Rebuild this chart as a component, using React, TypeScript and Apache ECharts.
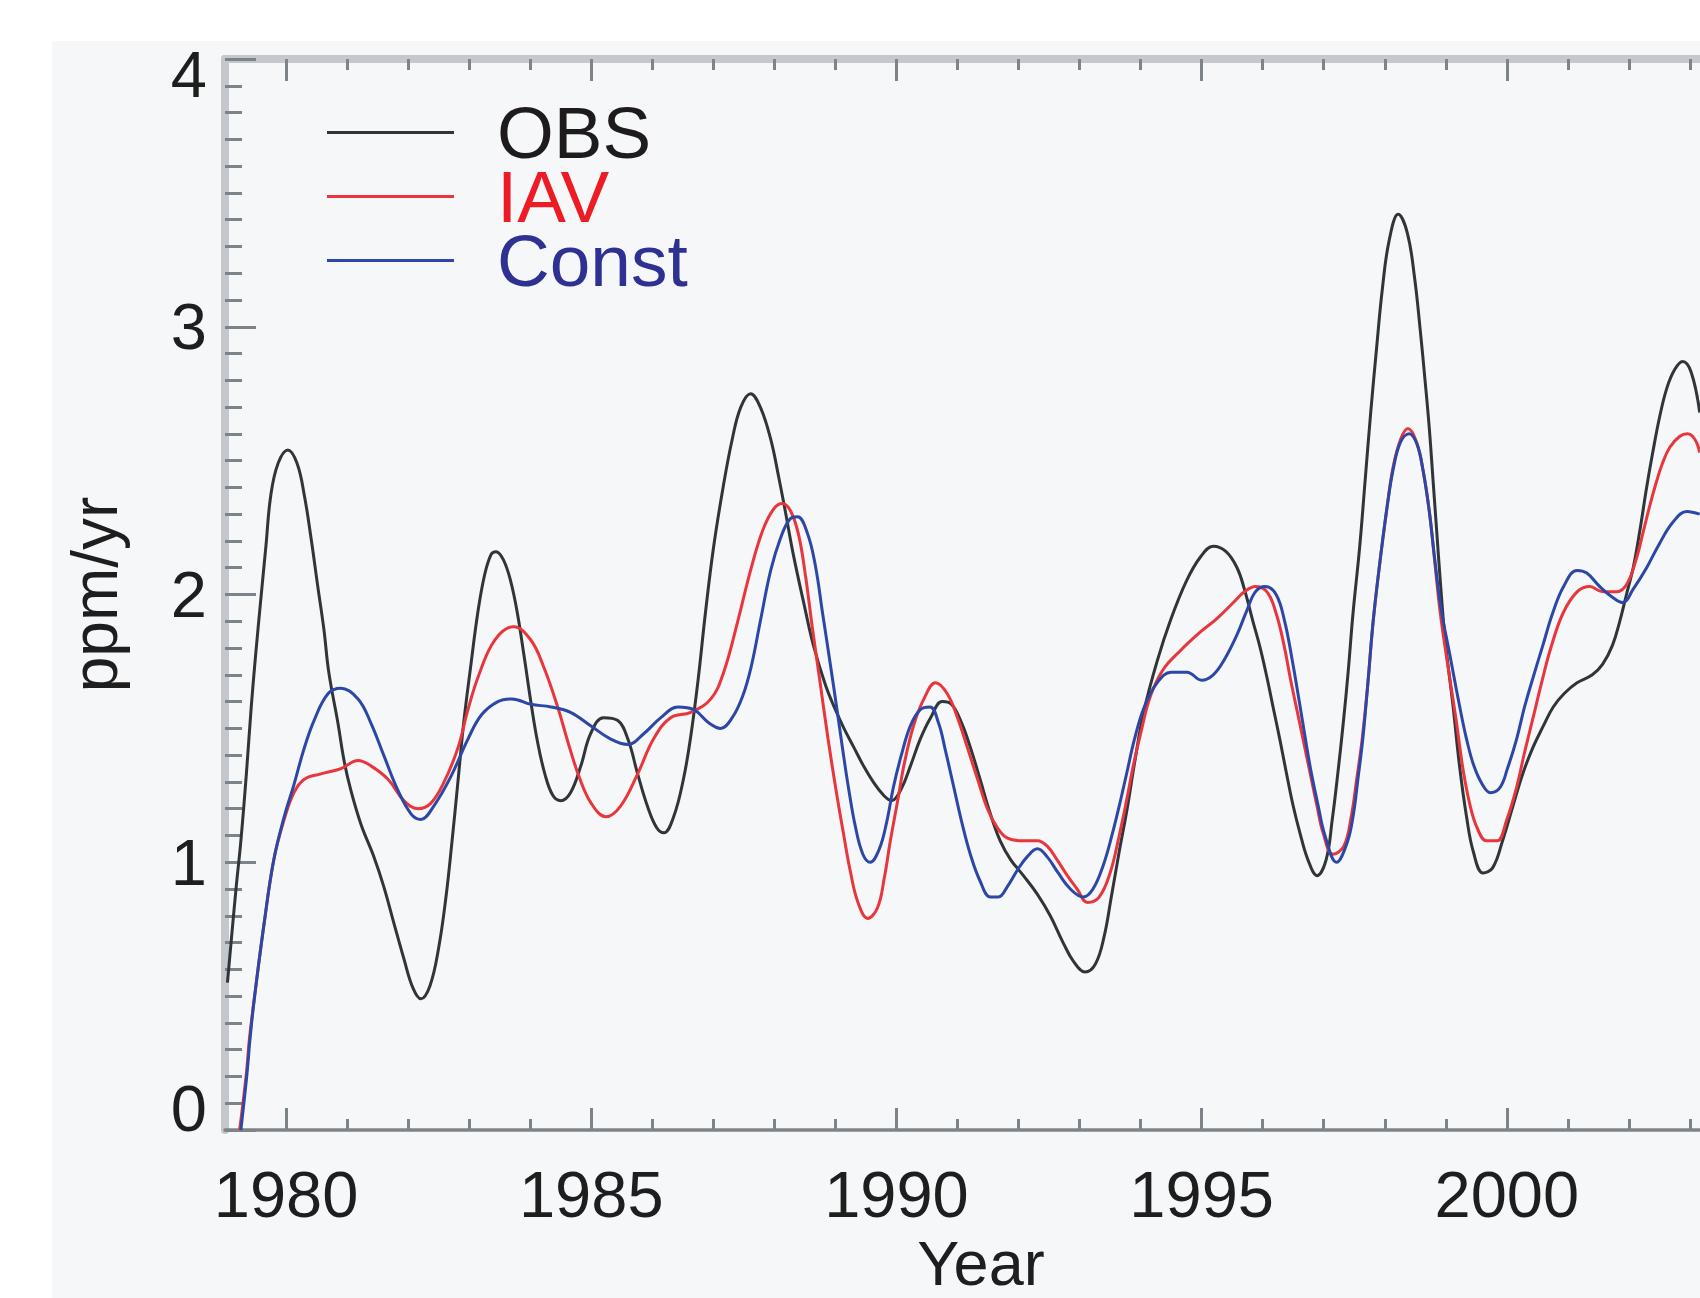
import React, { useEffect, useRef } from 'react';
import * as echarts from 'echarts';

const FONT = "'Liberation Sans', Arial, sans-serif";

const majorYears = [1980, 1985, 1990, 1995, 2000];
const minorYears = [1981, 1982, 1983, 1984, 1986, 1987, 1988, 1989, 1991, 1992, 1993, 1994, 1996, 1997, 1998, 1999, 2001, 2002, 2003];
const seriesNames = ['OBS', 'IAV', 'Const'];

const obs: [number, number][] = [
  [1979.04, 0.55], [1979.18, 0.9], [1979.26, 1.08], [1979.35, 1.33], [1979.43, 1.58], [1979.5, 1.77], [1979.59, 1.99],
  [1979.67, 2.18], [1979.75, 2.37], [1979.87, 2.49], [1980.03, 2.54], [1980.18, 2.49], [1980.3, 2.37], [1980.41, 2.21],
  [1980.52, 2.03], [1980.62, 1.87], [1980.7, 1.71], [1980.85, 1.52], [1980.95, 1.38], [1981.06, 1.27], [1981.23, 1.14],
  [1981.44, 1.02], [1981.6, 0.91], [1981.77, 0.77], [1981.93, 0.64], [1982.08, 0.53], [1982.21, 0.49], [1982.36, 0.54],
  [1982.5, 0.68], [1982.62, 0.87], [1982.72, 1.08], [1982.82, 1.31], [1982.91, 1.52], [1983.03, 1.74], [1983.14, 1.93],
  [1983.25, 2.07], [1983.36, 2.15], [1983.44, 2.16], [1983.56, 2.13], [1983.68, 2.05], [1983.79, 1.93], [1983.9, 1.77],
  [1984.01, 1.6], [1984.12, 1.45], [1984.24, 1.33], [1984.37, 1.25], [1984.5, 1.23], [1984.66, 1.26], [1984.83, 1.36],
  [1984.99, 1.48], [1985.2, 1.54], [1985.43, 1.53], [1985.6, 1.46], [1985.76, 1.33], [1985.92, 1.21], [1986.07, 1.13],
  [1986.19, 1.11], [1986.35, 1.17], [1986.51, 1.31], [1986.63, 1.47], [1986.75, 1.68], [1986.87, 1.93], [1987.0, 2.17],
  [1987.16, 2.4], [1987.31, 2.58], [1987.45, 2.7], [1987.61, 2.75], [1987.77, 2.7], [1987.94, 2.58], [1988.07, 2.44],
  [1988.18, 2.31], [1988.31, 2.15], [1988.48, 1.97], [1988.64, 1.81], [1988.84, 1.66], [1989.0, 1.57], [1989.14, 1.5],
  [1989.3, 1.43], [1989.46, 1.36], [1989.62, 1.3], [1989.79, 1.25], [1989.92, 1.23], [1990.07, 1.27], [1990.23, 1.36],
  [1990.39, 1.46], [1990.56, 1.54], [1990.75, 1.6], [1990.9, 1.59], [1991.05, 1.53], [1991.21, 1.43], [1991.37, 1.31],
  [1991.54, 1.18], [1991.7, 1.08], [1991.87, 1.01], [1992.08, 0.95], [1992.31, 0.88], [1992.52, 0.8], [1992.73, 0.7],
  [1992.9, 0.63], [1993.09, 0.59], [1993.26, 0.62], [1993.4, 0.72], [1993.52, 0.87], [1993.65, 1.04], [1993.78, 1.2],
  [1993.9, 1.37], [1994.05, 1.56], [1994.27, 1.75], [1994.5, 1.91], [1994.75, 2.05], [1994.98, 2.14], [1995.19, 2.18],
  [1995.4, 2.16], [1995.58, 2.1], [1995.7, 2.02], [1995.84, 1.9], [1995.96, 1.8], [1996.07, 1.69], [1996.17, 1.58],
  [1996.28, 1.46], [1996.4, 1.32], [1996.5, 1.21], [1996.61, 1.11], [1996.74, 1.01], [1996.89, 0.95], [1997.04, 1.01],
  [1997.14, 1.16], [1997.23, 1.33], [1997.32, 1.52], [1997.4, 1.71], [1997.48, 1.93], [1997.59, 2.18], [1997.68, 2.43],
  [1997.77, 2.68], [1997.87, 2.93], [1997.96, 3.14], [1998.07, 3.32], [1998.22, 3.42], [1998.37, 3.35], [1998.49, 3.18],
  [1998.58, 2.99], [1998.66, 2.8], [1998.73, 2.62], [1998.79, 2.43], [1998.85, 2.24], [1998.91, 2.05], [1998.99, 1.83],
  [1999.12, 1.58], [1999.23, 1.35], [1999.34, 1.17], [1999.45, 1.04], [1999.61, 0.96], [1999.77, 0.98], [1999.93, 1.08],
  [2000.1, 1.21], [2000.26, 1.33], [2000.43, 1.43], [2000.6, 1.51], [2000.76, 1.58], [2000.94, 1.63], [2001.15, 1.67],
  [2001.4, 1.7], [2001.57, 1.74], [2001.73, 1.81], [2001.85, 1.9], [2001.96, 2.0], [2002.07, 2.1], [2002.18, 2.24],
  [2002.29, 2.4], [2002.39, 2.53], [2002.5, 2.66], [2002.62, 2.77], [2002.75, 2.84], [2002.88, 2.87], [2003.02, 2.83],
  [2003.16, 2.68],
];

const iav: [number, number][] = [
  [1979.24, 0.0], [1979.35, 0.21], [1979.4, 0.34], [1979.48, 0.49], [1979.64, 0.77], [1979.8, 1.01], [1979.97, 1.16],
  [1980.13, 1.26], [1980.3, 1.31], [1980.57, 1.33], [1980.9, 1.35], [1981.18, 1.38], [1981.39, 1.36], [1981.67, 1.31],
  [1981.93, 1.23], [1982.16, 1.2], [1982.37, 1.22], [1982.59, 1.3], [1982.82, 1.43], [1982.98, 1.57], [1983.16, 1.7],
  [1983.42, 1.83], [1983.73, 1.88], [1984.01, 1.83], [1984.22, 1.73], [1984.45, 1.58], [1984.63, 1.44], [1984.8, 1.32],
  [1985.0, 1.22], [1985.24, 1.17], [1985.48, 1.21], [1985.76, 1.33], [1986.02, 1.46], [1986.3, 1.54], [1986.63, 1.56],
  [1986.96, 1.61], [1987.17, 1.71], [1987.4, 1.9], [1987.61, 2.09], [1987.81, 2.24], [1987.99, 2.32], [1988.13, 2.34],
  [1988.27, 2.31], [1988.4, 2.22], [1988.51, 2.07], [1988.62, 1.88], [1988.75, 1.67], [1988.88, 1.46], [1989.01, 1.27],
  [1989.13, 1.11], [1989.25, 0.96], [1989.37, 0.85], [1989.53, 0.79], [1989.69, 0.83], [1989.8, 0.94], [1989.9, 1.08],
  [1990.02, 1.23], [1990.13, 1.37], [1990.28, 1.51], [1990.45, 1.61], [1990.64, 1.67], [1990.83, 1.63], [1991.0, 1.54],
  [1991.16, 1.43], [1991.33, 1.31], [1991.49, 1.2], [1991.65, 1.13], [1991.82, 1.09], [1992.08, 1.08], [1992.31, 1.08],
  [1992.47, 1.06], [1992.63, 1.01], [1992.8, 0.95], [1992.96, 0.9], [1993.13, 0.85], [1993.32, 0.87], [1993.5, 0.96],
  [1993.65, 1.1], [1993.77, 1.23], [1993.88, 1.36], [1994.0, 1.48], [1994.16, 1.62], [1994.37, 1.72], [1994.65, 1.79],
  [1994.98, 1.86], [1995.25, 1.91], [1995.52, 1.97], [1995.7, 2.01], [1995.88, 2.03], [1996.07, 2.01], [1996.22, 1.93],
  [1996.35, 1.81], [1996.45, 1.69], [1996.56, 1.57], [1996.67, 1.45], [1996.78, 1.33], [1996.89, 1.21], [1996.99, 1.11],
  [1997.15, 1.03], [1997.33, 1.06], [1997.45, 1.17], [1997.54, 1.31], [1997.63, 1.46], [1997.72, 1.66], [1997.81, 1.9],
  [1997.92, 2.12], [1998.04, 2.33], [1998.14, 2.48], [1998.26, 2.58], [1998.38, 2.62], [1998.52, 2.57], [1998.63, 2.46],
  [1998.73, 2.31], [1998.82, 2.12], [1998.91, 1.93], [1999.03, 1.74], [1999.17, 1.53], [1999.28, 1.35], [1999.39, 1.22],
  [1999.51, 1.13], [1999.67, 1.08], [1999.84, 1.08], [2000.0, 1.16], [2000.16, 1.28], [2000.29, 1.41], [2000.43, 1.54],
  [2000.58, 1.68], [2000.72, 1.8], [2000.92, 1.93], [2001.15, 2.01], [2001.36, 2.03], [2001.57, 2.01], [2001.8, 2.01],
  [2001.97, 2.04], [2002.13, 2.14], [2002.23, 2.23], [2002.34, 2.33], [2002.45, 2.42], [2002.55, 2.49], [2002.67, 2.55],
  [2002.83, 2.59], [2002.96, 2.6], [2003.08, 2.58], [2003.16, 2.53],
];

const cnst: [number, number][] = [
  [1979.26, 0.0], [1979.36, 0.21], [1979.41, 0.34], [1979.48, 0.49], [1979.64, 0.77], [1979.8, 1.01], [1979.97, 1.17],
  [1980.13, 1.29], [1980.29, 1.42], [1980.46, 1.53], [1980.69, 1.63], [1980.9, 1.65], [1981.18, 1.61], [1981.39, 1.52],
  [1981.6, 1.4], [1981.83, 1.27], [1982.05, 1.18], [1982.21, 1.16], [1982.42, 1.21], [1982.7, 1.32], [1982.98, 1.46],
  [1983.2, 1.55], [1983.47, 1.6], [1983.7, 1.61], [1984.01, 1.59], [1984.34, 1.58], [1984.66, 1.56], [1984.99, 1.51],
  [1985.32, 1.46], [1985.6, 1.44], [1985.86, 1.48], [1986.14, 1.54], [1986.42, 1.58], [1986.68, 1.57], [1986.93, 1.52],
  [1987.12, 1.5], [1987.31, 1.54], [1987.48, 1.62], [1987.62, 1.73], [1987.77, 1.9], [1987.94, 2.09], [1988.1, 2.21],
  [1988.25, 2.28], [1988.38, 2.29], [1988.54, 2.23], [1988.67, 2.11], [1988.79, 1.93], [1988.91, 1.75], [1989.02, 1.58],
  [1989.12, 1.42], [1989.22, 1.27], [1989.33, 1.13], [1989.45, 1.03], [1989.57, 1.0], [1989.72, 1.05], [1989.84, 1.15],
  [1989.95, 1.28], [1990.08, 1.4], [1990.23, 1.51], [1990.39, 1.57], [1990.55, 1.58], [1990.69, 1.52], [1990.8, 1.42],
  [1990.93, 1.29], [1991.07, 1.15], [1991.21, 1.03], [1991.37, 0.93], [1991.54, 0.87], [1991.67, 0.87], [1991.82, 0.91],
  [1991.98, 0.97], [1992.14, 1.02], [1992.31, 1.05], [1992.47, 1.02], [1992.65, 0.96], [1992.85, 0.9], [1993.06, 0.87],
  [1993.22, 0.9], [1993.39, 0.99], [1993.53, 1.1], [1993.66, 1.22], [1993.78, 1.34], [1993.9, 1.46], [1994.06, 1.58],
  [1994.27, 1.67], [1994.5, 1.71], [1994.76, 1.71], [1995.0, 1.68], [1995.19, 1.7], [1995.38, 1.76], [1995.58, 1.85],
  [1995.74, 1.94], [1995.88, 2.01], [1996.04, 2.03], [1996.22, 2.0], [1996.36, 1.9], [1996.48, 1.76], [1996.6, 1.6],
  [1996.7, 1.46], [1996.8, 1.33], [1996.91, 1.21], [1997.02, 1.1], [1997.21, 1.0], [1997.38, 1.07], [1997.48, 1.17],
  [1997.56, 1.31], [1997.64, 1.46], [1997.72, 1.66], [1997.81, 1.9], [1997.92, 2.12], [1998.04, 2.33], [1998.14, 2.47],
  [1998.26, 2.57], [1998.4, 2.6], [1998.53, 2.56], [1998.63, 2.46], [1998.73, 2.31], [1998.82, 2.13], [1998.92, 1.95],
  [1999.07, 1.77], [1999.22, 1.59], [1999.34, 1.46], [1999.46, 1.36], [1999.6, 1.29], [1999.73, 1.26], [1999.89, 1.28],
  [2000.01, 1.35], [2000.16, 1.46], [2000.29, 1.58], [2000.43, 1.69], [2000.59, 1.81], [2000.75, 1.93], [2000.93, 2.03],
  [2001.15, 2.09], [2001.31, 2.08], [2001.52, 2.03], [2001.73, 1.99], [2001.9, 1.97], [2002.07, 2.02], [2002.29, 2.1],
  [2002.5, 2.19], [2002.72, 2.27], [2002.95, 2.31], [2003.16, 2.3],
];

const lineColors = ['#2f3538', '#e8363c', '#2c47a5'];
const legendTextColors = ['#1d1b1c', '#ed1c24', '#2e3192'];

const DARK_TICK = '#7c8489';
const LIGHT_AXIS = '#c4c8cc';
const LABEL = '#1e1e1e';

export default function App() {
  const ref = useRef<HTMLDivElement>(null);

  useEffect(() => {
    document.body.style.margin = '0';
    if (!ref.current) return;
    const chart = echarts.init(ref.current, null, { renderer: 'svg' });

    const xBase = { type: 'value', min: 1979, max: 2004, gridIndex: 0, splitLine: { show: false } };

    chart.setOption({
      animation: false,
      backgroundColor: 'transparent',
      grid: { left: 225, top: 59, width: 1526, bottom: 168, containLabel: false, outerBoundsMode: 'none' },
      legend: {
        orient: 'vertical',
        left: 327,
        top: 96,
        padding: 0,
        itemGap: -9,
        itemWidth: 127,
        itemHeight: 3,
        icon: 'rect',
        selectedMode: false,
        textStyle: { fontFamily: FONT, fontSize: 73, padding: [0, 0, 0, 38] },
        data: seriesNames.map((n, i) => ({ name: n, textStyle: { color: legendTextColors[i] } })),
      },
      xAxis: [
        {
          ...xBase,
          position: 'bottom',
          axisLine: { show: true, onZero: false, lineStyle: { color: DARK_TICK, width: 3.5 } },
          axisTick: { show: true, inside: true, length: 22, customValues: majorYears, lineStyle: { color: DARK_TICK, width: 3 } },
          axisLabel: {
            show: true,
            customValues: majorYears,
            margin: 32,
            fontSize: 65,
            fontFamily: FONT,
            color: LABEL,
            formatter: (v: number) => String(v),
          },
          name: 'Year',
          nameLocation: 'middle',
          nameGap: 98,
          nameTextStyle: { fontSize: 63, fontFamily: FONT, color: LABEL, padding: [0, 14, 0, 0] },
        },
        {
          ...xBase,
          position: 'bottom',
          axisLine: { show: false, onZero: false },
          axisTick: { show: true, inside: true, length: 11, customValues: minorYears, lineStyle: { color: DARK_TICK, width: 3 } },
          axisLabel: { show: false },
        },
        {
          ...xBase,
          position: 'top',
          axisLine: { show: true, onZero: false, lineStyle: { color: LIGHT_AXIS, width: 8 } },
          axisTick: { show: true, inside: true, length: 22, customValues: majorYears, lineStyle: { color: DARK_TICK, width: 3 } },
          axisLabel: { show: false },
        },
        {
          ...xBase,
          position: 'top',
          axisLine: { show: false, onZero: false },
          axisTick: { show: true, inside: true, length: 11, customValues: minorYears, lineStyle: { color: DARK_TICK, width: 3 } },
          axisLabel: { show: false },
        },
      ],
      yAxis: [
        {
          type: 'value',
          min: 0,
          max: 4,
          interval: 1,
          position: 'left',
          axisLine: { show: true, onZero: false, lineStyle: { color: LIGHT_AXIS, width: 8 } },
          axisTick: { show: true, inside: true, length: 31, lineStyle: { color: DARK_TICK, width: 3 } },
          minorTick: { show: true, splitNumber: 10, length: 17, lineStyle: { color: DARK_TICK, width: 3 } },
          splitLine: { show: false },
          minorSplitLine: { show: false },
          axisLabel: {
            margin: 18,
            fontSize: 65,
            fontFamily: FONT,
            color: LABEL,
            formatter: (v: number) => (v === 4 ? '{hi|4}' : v === 0 ? '{lo|0}' : String(v)),
            rich: {
              hi: { fontSize: 65, fontFamily: FONT, color: LABEL, padding: [30, 0, 0, 0] },
              lo: { fontSize: 65, fontFamily: FONT, color: LABEL, padding: [0, 0, 44, 0] },
            },
          },
          name: 'ppm/yr',
          nameLocation: 'middle',
          nameGap: 98,
          nameTextStyle: { fontSize: 64, fontFamily: FONT, color: LABEL },
        },
      ],
      series: [obs, iav, cnst].map((d, i) => ({
        name: seriesNames[i],
        type: 'line',
        xAxisIndex: 0,
        yAxisIndex: 0,
        data: d,
        symbol: 'none',
        smooth: 0.4,
        color: lineColors[i],
        lineStyle: { width: 3, color: lineColors[i] },
        z: 2 + i,
      })),
    });

    return () => chart.dispose();
  }, []);

  return (
    <div style={{ position: 'relative', width: 1700, height: 1298, background: '#ffffff', overflow: 'hidden' }}>
      <div style={{ position: 'absolute', left: 52, top: 41, right: 0, bottom: 0, background: '#f5f7f9' }} />
      <div ref={ref} style={{ position: 'absolute', left: 0, top: 0, width: 1700, height: 1298 }} />
    </div>
  );
}
